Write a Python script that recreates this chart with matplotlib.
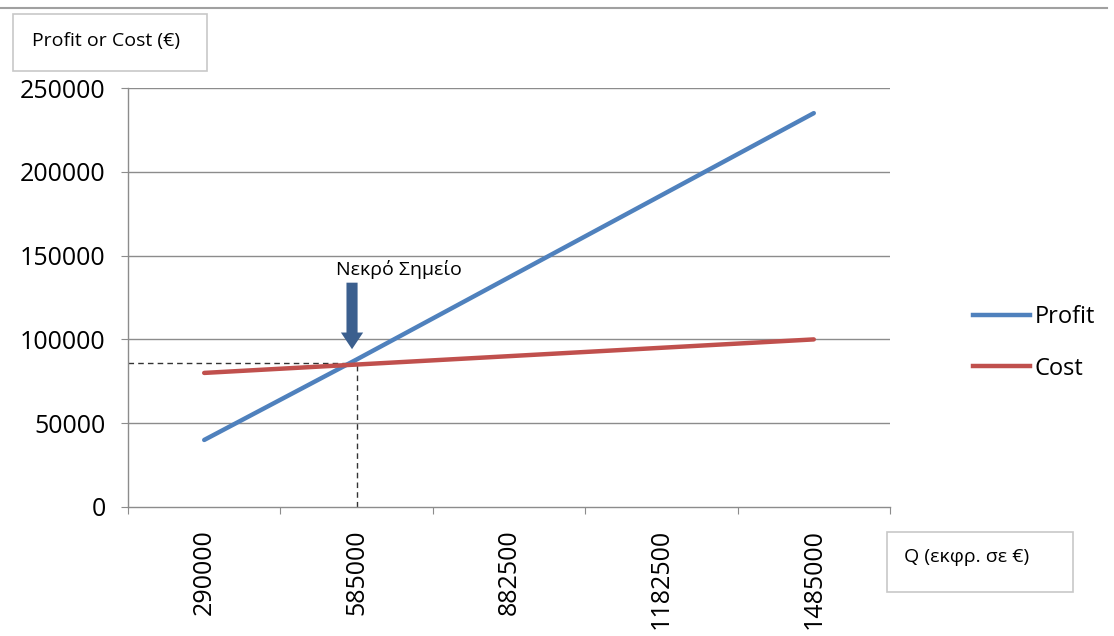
import numpy as np
import matplotlib
matplotlib.use("Agg")
import matplotlib.pyplot as plt
from matplotlib.patches import Rectangle
from matplotlib.lines import Line2D

# ---- data ----
q_labels = ["290000", "585000", "882500", "1182500", "1485000"]
profit = [40000, 88000, 137000, 186000, 235000]
cost = [80000, 85000, 90000, 95000, 100000]
breakeven_idx = 1          # category of the break-even point
breakeven_y = 86000
y_ticks = [0, 50000, 100000, 150000, 200000, 250000]

BLUE = "#4F81BD"
RED = "#C0504D"
GRID = "#8C8C8C"
ARROW = "#3B5F8E"

plt.rcParams["font.family"] = ["Open Sans", "DejaVu Sans"]

fig = plt.figure(figsize=(11.14, 6.36), dpi=100)
ax = fig.add_axes([128 / 1114, 1 - 507 / 636, (890 - 128) / 1114, (507 - 88) / 636])

x = np.arange(len(q_labels))
ax.plot(x, profit, color=BLUE, lw=3.2, solid_capstyle="round", label="Profit", zorder=3)
ax.plot(x, cost, color=RED, lw=3.2, solid_capstyle="round", label="Cost", zorder=3)

ax.set_xlim(-0.5, len(q_labels) - 0.5)
ax.set_ylim(0, 250000)

# gridlines / spines
ax.set_yticks(y_ticks)
ax.set_yticklabels([str(v) for v in y_ticks], fontsize=18)
for v in y_ticks[1:]:
    ax.axhline(v, color=GRID, lw=1, zorder=1)
for s in ["top", "right"]:
    ax.spines[s].set_visible(False)
for s in ["left", "bottom"]:
    ax.spines[s].set_color(GRID)
    ax.spines[s].set_linewidth(1)
ax.tick_params(axis="y", direction="out", length=5, color=GRID, pad=11)

# category boundaries as major ticks, labels at centers
ax.set_xticks(np.arange(-0.5, len(q_labels), 1.0))
ax.set_xticklabels([])
ax.set_xticks(x, minor=True)
ax.set_xticklabels(q_labels, minor=True, rotation=90, fontsize=18)
ax.tick_params(axis="x", which="major", direction="out", length=5, color=GRID)
ax.tick_params(axis="x", which="minor", length=0, pad=16)

# break-even guide lines
ax.plot([-0.5, breakeven_idx], [breakeven_y, breakeven_y], color="#333333",
        lw=1, ls=(0, (4, 3)), zorder=2)
ax.plot([breakeven_idx, breakeven_idx], [0, breakeven_y], color="#333333",
        lw=1, ls=(0, (4, 3)), zorder=2)

# arrow + label
ax.annotate("", xy=(breakeven_idx - 0.03, 92500), xytext=(breakeven_idx - 0.03, 135500),
            arrowprops=dict(arrowstyle="simple,head_length=1.2,head_width=1.6,tail_width=0.8",
                            mutation_scale=10, color=ARROW, lw=0), zorder=4)
ax.text(breakeven_idx + 0.28, 141500, "Νεκρό Σημείο", fontsize=14,
        ha="center", va="center")

# legend
handles = [Line2D([], [], color=BLUE, lw=3.2), Line2D([], [], color=RED, lw=3.2)]
fig.legend(handles, ["Profit", "Cost"], loc="center left",
           bbox_to_anchor=(973 / 1114, 1 - 343 / 636), frameon=False, borderpad=0,
           borderaxespad=0, fontsize=17, handlelength=2.4, handletextpad=0.2,
           labelspacing=1.15)

# axis title boxes
fig.add_artist(Rectangle((13 / 1114, 1 - 71 / 636), 194 / 1114, 57 / 636,
                         transform=fig.transFigure, fill=False, ec="#C8C8C8", lw=1.2))
fig.text(106 / 1114, 1 - 41 / 636, "Profit or Cost (€)", fontsize=14,
         ha="center", va="center")
fig.add_artist(Rectangle((887 / 1114, 1 - 592 / 636), 186 / 1114, 60 / 636,
                         transform=fig.transFigure, fill=False, ec="#C8C8C8", lw=1.2))
fig.text(967 / 1114, 1 - 557 / 636, "Q (εκφρ. σε €)", fontsize=14,
         ha="center", va="center")

# thin rule at the top
fig.add_artist(Line2D([0, 1107 / 1114], [1 - 8 / 636, 1 - 8 / 636],
                      transform=fig.transFigure, color="#A0A0A0", lw=1.5))

fig.savefig("out.png", dpi=100)
